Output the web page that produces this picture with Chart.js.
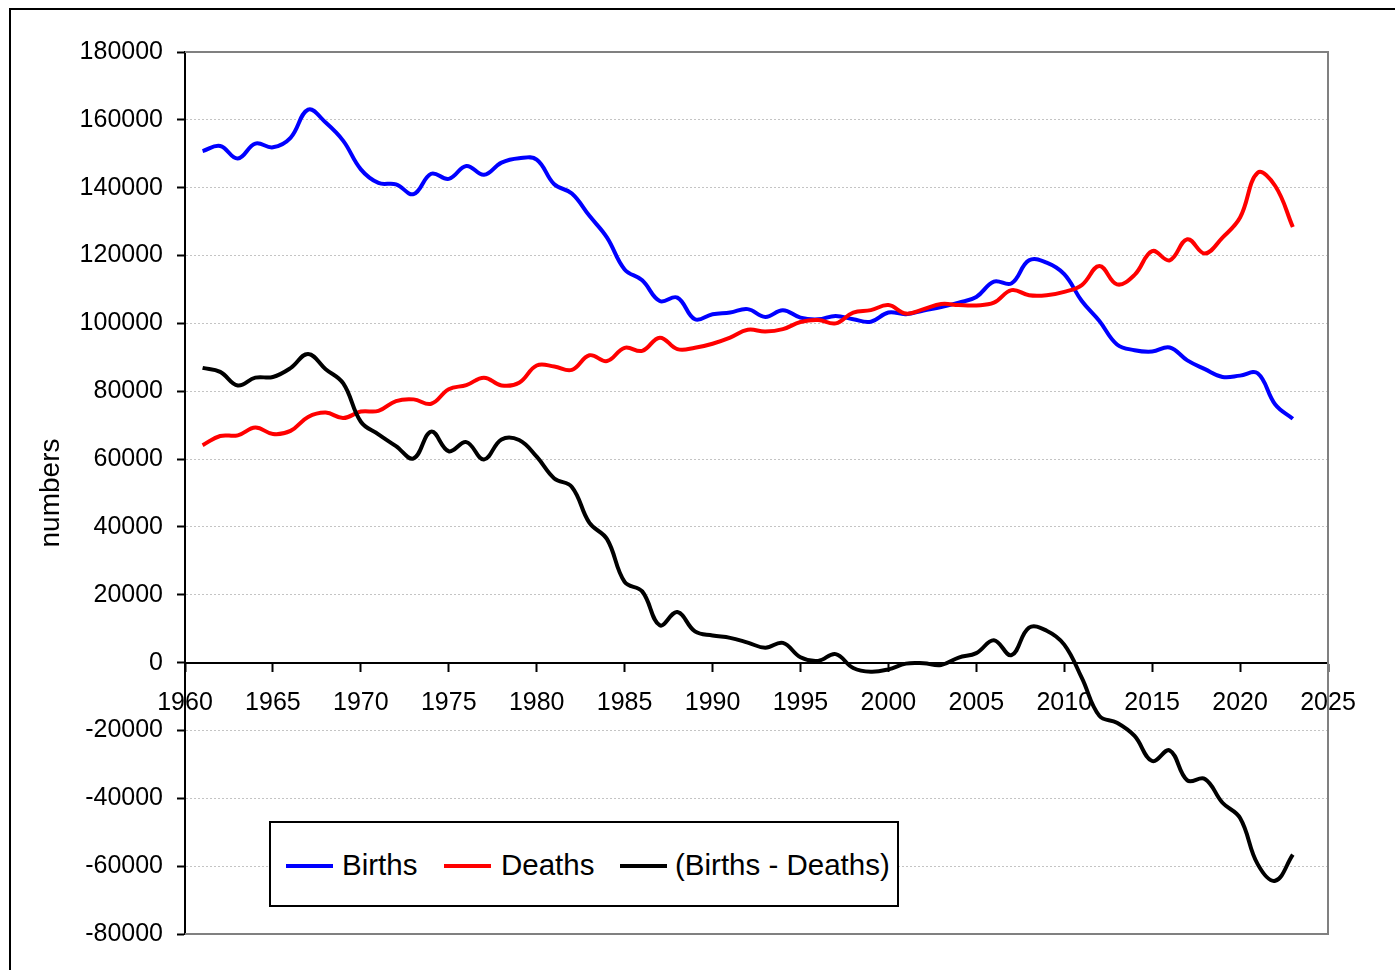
<!DOCTYPE html>
<html>
<head>
<meta charset="utf-8">
<script src="https://cdn.jsdelivr.net/npm/chart.js@4/dist/chart.umd.min.js"></script>
<style>
  html, body { margin: 0; padding: 0; background: #fff; overflow: hidden; }
  #frame { position: absolute; left: 9px; top: 8px; width: 1500px; height: 1100px; border: 2px solid #000; }
  #wrap { position: absolute; left: 0; top: 0; width: 1395px; height: 970px; }
  #legend { position: absolute; left: 269px; top: 821px; width: 626px; height: 82px; border: 2px solid #000; background: #fff;
            font-family: "Liberation Sans", Arial, sans-serif; font-size: 29.5px; color: #000; }
  .sw { position: absolute; height: 4px; width: 47px; top: 41px; }
  .lb { position: absolute; top: 24px; line-height: 36px; white-space: nowrap; }
</style>
</head>
<body>
<div id="frame"></div>
<div id="wrap"><canvas id="c" width="1395" height="970"></canvas></div>
<div id="legend"></div>
<script>
const years = [1961,1962,1963,1964,1965,1966,1967,1968,1969,1970,
  1971,1972,1973,1974,1975,1976,1977,1978,1979,1980,
  1981,1982,1983,1984,1985,1986,1987,1988,1989,1990,
  1991,1992,1993,1994,1995,1996,1997,1998,1999,2000,
  2001,2002,2003,2004,2005,2006,2007,2008,2009,2010,
  2011,2012,2013,2014,2015,2016,2017,2018,2019,2020,
  2021,2022,2023];

const births = [150800,152300,148600,153000,151900,154700,163000,159200,153800,145400,
  141400,141000,138100,144100,142600,146400,143800,147400,148700,148300,
  141000,138300,131700,125300,115900,112700,106600,107600,101200,102700,
  103200,104200,101900,103900,101700,101200,102200,101200,100500,103200,
  102700,103800,104800,106100,107800,112300,111800,118600,117900,114500,
  106600,100700,93800,92100,91700,92900,89100,86500,84200,84600,
  85300,76100,71900];

const deaths = [64100,66800,67000,69300,67400,68300,72400,73700,72100,74000,
  74200,77100,77600,76300,80600,81800,84000,81700,82500,87600,
  87300,86300,90600,88900,92800,91900,95800,92400,92800,94000,
  95800,98100,97600,98300,100400,101000,100000,103200,103900,105400,
  102900,104200,105700,105400,105300,106100,109800,108300,108300,109300,
  111300,116900,111500,114300,121300,118600,124800,120600,125300,131200,
  144400,140500,128400];

const balance = [86900,85700,81700,84000,84200,86800,91000,86500,82300,71000,
  67300,63800,60200,68100,62300,65000,59900,65800,65600,60700,
  54300,51800,41200,36400,23800,21000,11000,14900,9200,8000,
  7300,5900,4400,5800,1600,500,2500,-1600,-2700,-2000,
  -300,-200,-700,1500,2800,6600,2200,10300,9400,5300,
  -4500,-15700,-17700,-21600,-29000,-25900,-34700,-34300,-41300,-45800,
  -59400,-64300,-56600];

const seriesLabels = ["Births", "Deaths", "(Births - Deaths)"];
const seriesColors = ["#0000ff", "#ff0000", "#000000"];
const yTicks = [-80000,-60000,-40000,-20000,0,20000,40000,60000,80000,100000,120000,140000,160000,180000];
const xTicks = [1960,1965,1970,1975,1980,1985,1990,1995,2000,2005,2010,2015,2020,2025];
const yTitle = "numbers";

const FONT = '"Liberation Sans", Arial, sans-serif';

function pts(vals) { return years.map((y, i) => ({ x: y, y: vals[i] })); }

const frame = {
  id: 'plotFrame',
  beforeDatasetsDraw(chart) {
    const a = chart.chartArea, ctx = chart.ctx;
    ctx.save();
    ctx.strokeStyle = '#808080';
    ctx.lineWidth = 2;
    ctx.beginPath();
    ctx.moveTo(a.left, a.top); ctx.lineTo(a.right, a.top); ctx.lineTo(a.right, a.bottom); ctx.lineTo(a.left, a.bottom);
    ctx.stroke();
    ctx.restore();
  }
};

const sets = [births, deaths, balance];
new Chart(document.getElementById('c'), {
  type: 'line',
  data: {
    datasets: sets.map((s, i) => ({
      label: seriesLabels[i],
      data: pts(s),
      borderColor: seriesColors[i],
      backgroundColor: seriesColors[i],
      borderWidth: 4,
      pointRadius: 0,
      tension: 0.4,
      fill: false,
      order: 3 - i
    }))
  },
  options: {
    responsive: false,
    animation: false,
    events: [],
    layout: { padding: { left: 10, top: 52, right: 67, bottom: 36 } },
    plugins: { legend: { display: false }, tooltip: { enabled: false } },
    scales: {
      x: {
        type: 'linear',
        position: { y: 0 },
        min: xTicks[0], max: xTicks[xTicks.length - 1],
        afterBuildTicks(scale) { scale.ticks = xTicks.map(v => ({ value: v })); },
        ticks: { callback: v => String(v), color: '#000', font: { family: FONT, size: 25 }, padding: 17, maxRotation: 0, autoSkip: false },
        grid: { drawOnChartArea: false, drawTicks: true, tickLength: 8, tickColor: '#000', tickWidth: 2 },
        border: { color: '#000', width: 2 }
      },
      y: {
        type: 'linear',
        min: yTicks[0], max: yTicks[yTicks.length - 1],
        afterBuildTicks(scale) { scale.ticks = yTicks.map(v => ({ value: v })); },
        afterFit(scale) { scale.width = 175; },
        ticks: { callback: v => String(v), color: '#000', font: { family: FONT, size: 25 }, padding: 14 },
        grid: { color: '#c4c4c4', lineWidth: 1, tickColor: '#000', tickWidth: 2, tickLength: 8 },
        border: { color: '#000', width: 2, dash: [2, 2] },
        title: { display: true, text: yTitle, color: '#000', font: { family: FONT, size: 28 }, padding: { top: 24, bottom: 0 } }
      }
    }
  },
  plugins: [frame]
});

// HTML legend built from series arrays
const lg = document.getElementById('legend');
const swLeft = [15, 173, 349];
const lbLeft = [71, 230, 404];
seriesLabels.forEach((t, i) => {
  const sw = document.createElement('div');
  sw.className = 'sw'; sw.style.left = swLeft[i] + 'px'; sw.style.background = seriesColors[i];
  const lb = document.createElement('div');
  lb.className = 'lb'; lb.style.left = lbLeft[i] + 'px'; lb.textContent = t;
  lg.appendChild(sw); lg.appendChild(lb);
});
</script>
</body>
</html>
